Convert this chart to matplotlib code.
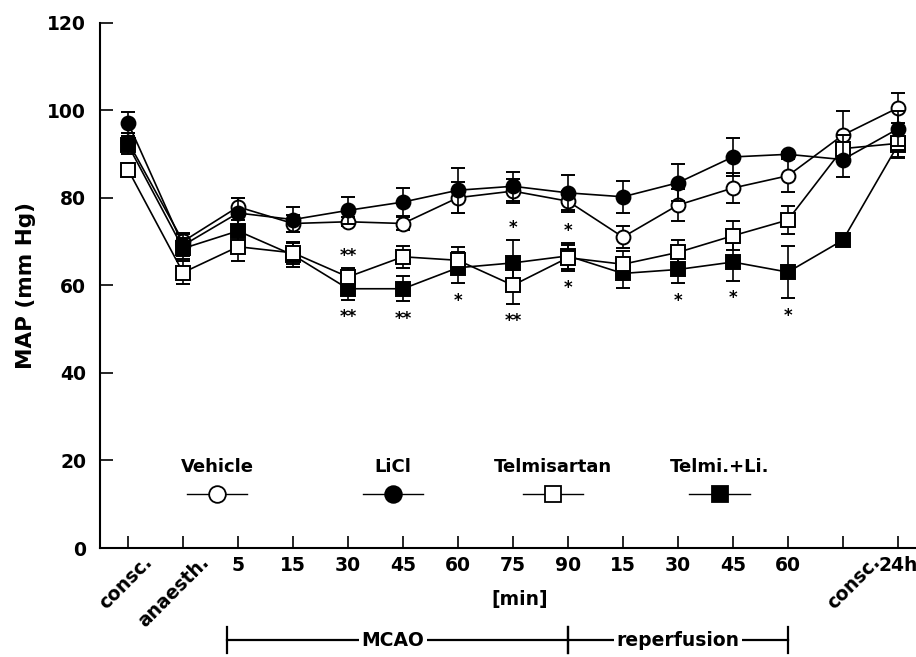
import numpy as np
import matplotlib
matplotlib.use("Agg")
import matplotlib.pyplot as plt
import matplotlib.transforms as mtransforms

# x categories
x_labels = ["consc.", "anaesth.", "5", "15", "30", "45", "60", "75", "90",
            "15", "30", "45", "60", "consc.", "24h"]

# MAP means (mm Hg)
vehicle = [92.8, 70.0, 77.9, 74.1, 74.5, 74.1, 80.0, 81.5, 79.2, 71.0,
           78.3, 82.2, 85.0, 94.3, 100.5]
licl = [97.1, 69.1, 76.5, 75.0, 77.1, 79.0, 81.7, 82.6, 81.1, 80.2,
        83.4, 89.3, 89.9, 88.7, 95.7]
telmi = [86.4, 62.9, 68.8, 67.4, 61.9, 66.5, 65.7, 60.0, 66.3, 64.8,
         67.5, 71.3, 74.9, 91.2, 92.4]
combo = [92.0, 68.4, 72.4, 66.9, 59.2, 59.2, 64.0, 65.1, 66.7, 62.7,
         63.6, 65.3, 63.0, 70.3, 92.0]

# SEM
vehicle_err = [2.0, 2.0, 2.0, 2.0, 1.0, 1.5, 3.5, 2.8, 2.4, 2.6,
               3.7, 3.4, 3.8, 5.5, 3.5]
licl_err = [2.4, 2.5, 3.5, 2.8, 3.1, 3.2, 5.1, 3.3, 4.0, 3.6,
            4.2, 4.4, 0.6, 3.9, 4.0]
telmi_err = [1.5, 2.7, 3.2, 2.5, 2.0, 2.5, 3.0, 4.2, 3.0, 3.0,
             2.8, 3.3, 3.2, 3.0, 3.0]
combo_err = [2.0, 2.5, 2.5, 2.7, 2.5, 2.8, 3.5, 5.2, 3.0, 3.3,
             3.2, 4.3, 6.0, 0.0, 3.0]

# significance marks
stars_above = ["", "", "", "", "**", "", "", "*", "*", "", "", "", "", "", ""]
stars_below = ["", "", "", "", "**", "**", "*", "**", "*", "", "*", "*", "*", "", ""]

legend_names = ["Vehicle", "LiCl", "Telmisartan", "Telmi.+Li."]

plt.rcParams["font.family"] = ["DejaVu Sans"]
plt.rcParams["font.weight"] = "bold"

fig = plt.figure(figsize=(9.16, 6.57), dpi=100)
ax = fig.add_axes([100 / 916, 109 / 657, 816 / 916, 525.5 / 657])

x = np.arange(len(x_labels))

styles = [
    (vehicle, vehicle_err, "o", "white"),
    (combo, combo_err, "s", "black"),
    (telmi, telmi_err, "s", "white"),
    (licl, licl_err, "o", "black"),
]
for z, (mean, err, mk, fc) in enumerate(styles):
    ax.errorbar(x, mean, yerr=err, fmt="-", color="black", lw=1.2,
                elinewidth=1.2, capsize=5, capthick=1.2,
                marker=mk, ms=10, mfc=fc, mec="black", mew=1.4,
                zorder=3 + z)

# stars
sq_top = np.maximum(np.array(telmi) + telmi_err, np.array(combo) + combo_err)
sq_bot = np.minimum(np.array(telmi) - telmi_err, np.array(combo) - combo_err)
for i in range(len(x)):
    if stars_above[i]:
        ax.text(x[i], sq_top[i] + 2.8, stars_above[i], ha="center",
                va="center", fontsize=12, fontweight="bold")
    if stars_below[i]:
        ax.text(x[i], sq_bot[i] - 4.0, stars_below[i], ha="center",
                va="center", fontsize=12, fontweight="bold")

# legend drawn in data space
leg_x = [1.62, 4.82, 7.73, 10.76]
leg_style = [("o", "white"), ("o", "black"), ("s", "white"), ("s", "black")]
for lx, name, (mk, fc) in zip(leg_x, legend_names, leg_style):
    ax.text(lx, 18.6, name, ha="center", va="center", fontsize=13,
            fontweight="bold")
    ax.plot([lx - 0.55, lx, lx + 0.55], [12.3, 12.3, 12.3], color="black",
            lw=1.0, marker=mk, markevery=[1], ms=12 if mk == "o" else 11,
            mfc=fc, mec="black", mew=1.3)

# axes styling
ax.set_xlim(-0.51, 14.33)
ax.set_ylim(0, 120)
ax.set_yticks([0, 20, 40, 60, 80, 100, 120])
ax.set_xticks(x)
ax.set_xticklabels(x_labels)
ax.spines["top"].set_visible(False)
ax.spines["right"].set_visible(False)
ax.spines["left"].set_linewidth(1.5)
ax.spines["bottom"].set_linewidth(1.5)
ax.tick_params(direction="in", length=9, width=1.2, labelsize=13.5, pad=6)
ax.tick_params(axis="y", pad=10)
for lab in ax.get_yticklabels():
    lab.set_fontweight("bold")

rot_offsets = {0: (15, 4), 1: (16, 4), 13: (28, 4)}
for i, lab in enumerate(ax.get_xticklabels()):
    lab.set_fontweight("bold")
    if i in rot_offsets:
        dx, dy = rot_offsets[i]
        lab.set_rotation(45)
        lab.set_rotation_mode("anchor")
        lab.set_ha("right")
        lab.set_va("top")
        lab.set_transform(lab.get_transform() + mtransforms.ScaledTranslation(
            dx / 100, dy / 100, fig.dpi_scale_trans))

ax.set_ylabel("MAP (mm Hg)", fontsize=15.5, fontweight="bold", labelpad=8)

# [min] and period brackets below the axis
trans = mtransforms.blended_transform_factory(ax.transData, fig.transFigure)
fig.text(520 / 916, 1 - 599 / 657, "[min]", ha="center", va="center",
         fontsize=13.5, fontweight="bold")
by = 1 - 640 / 657
for x0, x1, label, tx in [(1.8, 8.0, "MCAO", 4.82), (8.0, 12.0, "reperfusion", 10.0)]:
    ax.plot([x0, x1], [by, by], color="black", lw=1.6, transform=trans,
            clip_on=False, zorder=1)
    for xe in (x0, x1):
        ax.plot([xe, xe], [by - 13 / 657, by + 13 / 657], color="black",
                lw=1.6, transform=trans, clip_on=False)
    ax.text(tx, by, label, ha="center", va="center", fontsize=13.5,
            fontweight="bold", transform=trans,
            bbox=dict(facecolor="white", edgecolor="none", pad=2), zorder=2)

fig.savefig("out.png", dpi=100)
